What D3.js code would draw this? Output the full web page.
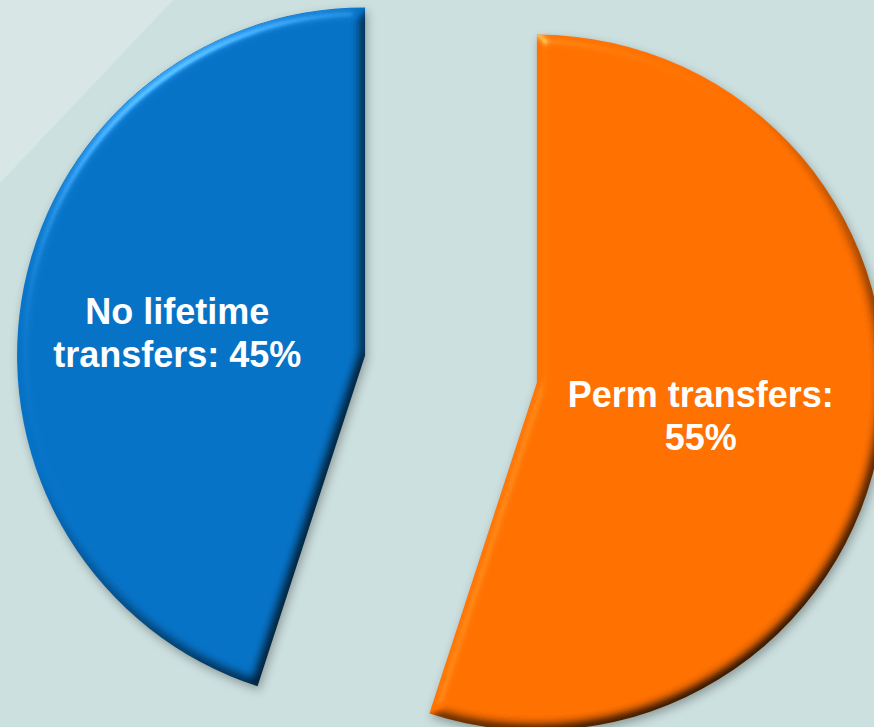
<!DOCTYPE html>
<html>
<head>
<meta charset="utf-8">
<script src="https://cdn.jsdelivr.net/npm/d3@7"></script>
<style>
  html, body { margin: 0; padding: 0; background: #cce0df; overflow: hidden; }
</style>
</head>
<body>
<div id="chart"></div>
<script>
// data
var categories = ["Perm transfers", "No lifetime transfers"];
var values = [55, 45];
var labelLines = [["Perm transfers:", "55%"], ["No lifetime", "transfers: 45%"]];
var colors = ["#ff7000", "#0672c6"];

var width = 874, height = 727;
var cx = 451, cy = 369, radius = 348, explode = 87, labelR = 178;

var svg = d3.select("#chart").append("svg")
    .attr("width", width)
    .attr("height", height);

// background with lighter corner
svg.append("rect").attr("width", width).attr("height", height).attr("fill", "#cce0df");
svg.append("path").attr("d", "M0,0L173,0L0,183Z").attr("fill", "#d8e7e6");

var defs = svg.append("defs");

// drop shadow
var sh = defs.append("filter").attr("id", "shadow")
    .attr("color-interpolation-filters", "sRGB")
    .attr("x", "-20%").attr("y", "-20%").attr("width", "140%").attr("height", "140%");
sh.append("feGaussianBlur").attr("in", "SourceAlpha").attr("stdDeviation", 5).attr("result", "b");
sh.append("feOffset").attr("in", "b").attr("dx", 2).attr("dy", 4).attr("result", "o");
sh.append("feFlood").attr("flood-color", "#000").attr("flood-opacity", 0.3).attr("result", "f");
sh.append("feComposite").attr("in", "f").attr("in2", "o").attr("operator", "in");

// bevel
var bv = defs.append("filter").attr("id", "bevel")
    .attr("color-interpolation-filters", "sRGB")
    .attr("x", "-5%").attr("y", "-5%").attr("width", "110%").attr("height", "110%");
bv.append("feGaussianBlur").attr("in", "SourceAlpha").attr("stdDeviation", 6).attr("result", "blur");
var dl = bv.append("feDiffuseLighting").attr("in", "blur").attr("surfaceScale", 5)
    .attr("diffuseConstant", 1).attr("lighting-color", "#fff").attr("result", "diff");
dl.append("feDistantLight").attr("azimuth", 235).attr("elevation", 45);
var ct = bv.append("feComponentTransfer").attr("in", "diff").attr("result", "diffN");
["feFuncR", "feFuncG", "feFuncB"].forEach(function(f) {
  ct.append(f).attr("type", "linear").attr("slope", 1.414).attr("intercept", 0);
});
bv.append("feComposite").attr("in", "SourceGraphic").attr("in2", "diffN")
    .attr("operator", "arithmetic").attr("k1", 1).attr("k2", 0).attr("k3", 0).attr("k4", 0)
    .attr("result", "shaded");
var sl = bv.append("feSpecularLighting").attr("in", "blur").attr("surfaceScale", 5)
    .attr("specularConstant", 0.7).attr("specularExponent", 40)
    .attr("lighting-color", "#fff").attr("result", "spec");
sl.append("feDistantLight").attr("azimuth", 235).attr("elevation", 40);
bv.append("feComposite").attr("in", "spec").attr("in2", "SourceAlpha").attr("operator", "in").attr("result", "specIn");
bv.append("feComposite").attr("in", "shaded").attr("in2", "specIn")
    .attr("operator", "arithmetic").attr("k1", 0).attr("k2", 1).attr("k3", 0.45).attr("k4", 0);

var pie = d3.pie().sort(null).value(d => d);
var arcs = pie(values);
var arc = d3.arc().innerRadius(0).outerRadius(radius);
var labelArc = d3.arc().innerRadius(labelR).outerRadius(labelR);

function offset(d) {
  var a = (d.startAngle + d.endAngle) / 2;
  return [cx + explode * Math.sin(a), cy - explode * Math.cos(a)];
}

var g = svg.append("g");

var slice = g.selectAll("g.slice")
    .data(arcs)
    .join("g")
    .attr("class", "slice")
    .attr("transform", d => "translate(" + offset(d) + ")");

slice.append("path")
    .attr("d", arc)
    .attr("fill", "#000")
    .attr("filter", "url(#shadow)");

slice.append("path")
    .attr("d", arc)
    .attr("fill", (d, i) => colors[i])
    .attr("filter", "url(#bevel)");

// labels
slice.append("text")
    .attr("transform", d => {
      var c = labelArc.centroid(d);
      return "translate(" + (c[0] - 12) + "," + (c[1] + 5) + ")";
    })
    .attr("text-anchor", "middle")
    .attr("fill", "#fff")
    .attr("font-family", "Liberation Sans, Arial, sans-serif")
    .attr("font-weight", "bold")
    .attr("font-size", 36)
    .selectAll("tspan")
    .data((d, i) => labelLines[i])
    .join("tspan")
      .attr("x", 0)
      .attr("y", (t, j, n) => (j - (n.length - 1) / 2) * 43 + 13)
      .text(t => t);
</script>
</body>
</html>
